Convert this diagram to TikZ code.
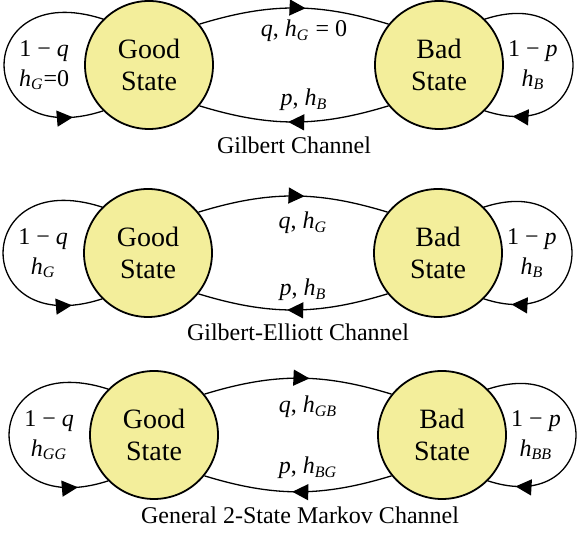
\documentclass[tikz,border=0pt]{standalone}
\usepackage{fontspec}
\setmainfont{Liberation Serif}
\usetikzlibrary{arrows.meta,decorations.markings}
\definecolor{stfill}{RGB}{243,238,155}
\newcommand{\hs}[1]{\textit{h}\textsubscript{\textit{#1}}}
\newcommand{\iv}[1]{\textit{#1}}
\begin{document}
\begin{tikzpicture}[x=0.5pt,y=0.5pt,
  state/.style={circle,draw,line width=0.9pt,fill=stfill,minimum size=64pt,
    inner sep=0pt,align=center,font=\fontsize{14}{16}\selectfont},
  lbl/.style={font=\fontsize{12}{15}\selectfont,align=center,inner sep=1pt},
  caption/.style={font=\fontsize{12}{14}\selectfont},
  link/.style={line width=0.65pt},
  arrowat/.style={decoration={markings,
    mark=at position #1 with {\arrow{Triangle[length=8pt,width=8pt]}}},
    postaction={decorate}}]
\useasboundingbox (0,0) rectangle (577,533);
\node[state] (g1) at (149,468) {Good\\State};
\node[state] (b1) at (439,468) {Bad\\State};
\draw[link,arrowat=.56] (g1.39) to[bend left=17]
  node[lbl,xshift=5pt,yshift=-11.5pt] (q1) {\iv{q}, \hs{G} = 0} (b1.141);
\draw[link,arrowat=.53] (b1.219) to[bend left=17]
  node[lbl,xshift=5pt,yshift=11pt] (p1) {\iv{p}, \hs{B}} (g1.-39);
\draw[link,arrowat=.88] (g1.135) to[out=162,in=198,looseness=3.88]
  node[lbl,xshift=20pt] (lg1) {1 − \iv{q}\\\hs{G}=0} (g1.225);
\draw[link,arrowat=.88] (b1.45) to[out=18,in=-18,looseness=3.45]
  node[lbl,xshift=-20pt] (lb1) {1 − \iv{p}\\\hs{B}} (b1.-45);
\node[caption] (c1) at (294,388) {Gilbert Channel};

\node[state] (g2) at (148,280) {Good\\State};
\node[state] (b2) at (438,280) {Bad\\State};
\draw[link,arrowat=.56] (g2.39) to[bend left=17]
  node[lbl,xshift=5pt,yshift=-13.5pt] (q2) {\iv{q}, \hs{G}} (b2.141);
\draw[link,arrowat=.53] (b2.219) to[bend left=17]
  node[lbl,xshift=5pt,yshift=10pt] (p2) {\iv{p}, \hs{B}} (g2.-39);
\draw[link,arrowat=.88] (g2.135) to[out=162,in=198,looseness=3.88]
  node[lbl,xshift=20pt] (lg2) {1 − \iv{q}\\\hs{G}} (g2.225);
\draw[link,arrowat=.88] (b2.45) to[out=18,in=-18,looseness=3.45]
  node[lbl,xshift=-20pt] (lb2) {1 − \iv{p}\\\hs{B}} (b2.-45);
\node[caption] (c2) at (298,201) {Gilbert-Elliott Channel};

\node[state] (g3) at (154,98) {Good\\State};
\node[state] (b3) at (442,98) {Bad\\State};
\draw[link,arrowat=.56] (g3.39) to[bend left=17]
  node[lbl,xshift=5pt,yshift=-14.5pt] (q3) {\iv{q}, \hs{GB}} (b3.141);
\draw[link,arrowat=.53] (b3.219) to[bend left=17]
  node[lbl,xshift=5pt,yshift=12pt] (p3) {\iv{p}, \hs{BG}} (g3.-39);
\draw[link,arrowat=.88] (g3.135) to[out=162,in=198,looseness=3.88]
  node[lbl,xshift=20pt] (lg3) {1 − \iv{q}\\\hs{GG}} (g3.225);
\draw[link,arrowat=.88] (b3.45) to[out=18,in=-18,looseness=3.45]
  node[lbl,xshift=-20pt] (lb3) {1 − \iv{p}\\\hs{BB}} (b3.-45);
\node[caption] (c3) at (300,18) {General 2-State Markov Channel};
\end{tikzpicture}
\end{document}
